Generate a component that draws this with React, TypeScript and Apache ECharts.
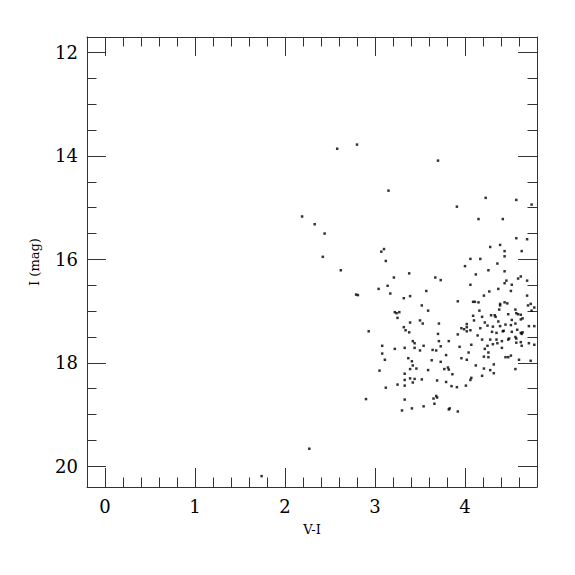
import React, { useEffect, useRef } from "react";
import * as echarts from "echarts";

// [V-I, I] pairs, grouped by I magnitude
const brightStars: number[][] = [
  [2.58, 13.86], [2.80, 13.78], [3.70, 14.09], [3.15, 14.67], [3.91, 14.98], [4.23, 14.81], [4.57, 14.85], [4.74, 14.94],
  [2.19, 15.17], [2.33, 15.32], [2.44, 15.50], [4.15, 15.22], [4.42, 15.22], [2.42, 15.95], [3.07, 15.85], [3.10, 15.80],
  [3.12, 16.03], [2.62, 16.21], [4.57, 15.59], [4.69, 15.61], [4.28, 15.76], [4.39, 15.72], [4.44, 15.84], [4.63, 15.84],
  [4.06, 15.99], [4.17, 15.99], [4.44, 15.94], [4.00, 16.13], [4.36, 16.08], [4.26, 16.21], [4.44, 16.23], [4.12, 16.29],
  [3.21, 16.35], [3.38, 16.27], [3.67, 16.35], [3.73, 16.40], [4.59, 16.37], [4.62, 16.33], [4.69, 16.41], [4.46, 16.41],
  [4.44, 16.46], [4.52, 16.49], [4.06, 16.49], [3.14, 16.51], [3.04, 16.57], [4.37, 16.57],
];

const stars167: number[][] = [
  [2.79, 16.68], [2.81, 16.69], [3.17, 16.66], [3.32, 16.75], [3.39, 16.71], [3.57, 16.61], [4.21, 16.70], [4.27, 16.62],
  [4.51, 16.61], [4.69, 16.70], [3.92, 16.81], [4.09, 16.82], [4.11, 16.82], [4.15, 16.83], [4.39, 16.86], [4.39, 16.89],
  [4.44, 16.83], [4.47, 16.85], [3.52, 16.89], [4.70, 16.89], [4.73, 16.86], [4.77, 16.93], [3.22, 17.02], [3.24, 17.04],
  [3.27, 17.02], [3.25, 17.13], [3.59, 16.99], [4.16, 16.99], [4.38, 16.97], [4.56, 16.97], [4.57, 17.04], [4.59, 17.06],
  [4.62, 17.07], [4.74, 16.99], [4.09, 17.09], [4.19, 17.11], [4.29, 17.08], [4.33, 17.08], [4.34, 17.11], [4.48, 17.06],
  [4.52, 17.17], [4.62, 17.16], [4.64, 17.14], [4.10, 17.18],
];

const stars173: number[][] = [
  [3.39, 17.22], [3.50, 17.18], [3.53, 17.24], [3.71, 17.24], [4.22, 17.22], [4.37, 17.20], [4.02, 17.25], [3.96, 17.33],
  [3.99, 17.35], [4.02, 17.31], [4.06, 17.37], [4.02, 17.39], [4.17, 17.33], [4.25, 17.28], [4.31, 17.30], [4.39, 17.29],
  [4.45, 17.26], [4.51, 17.27], [4.56, 17.24], [4.71, 17.29], [4.77, 17.29], [3.32, 17.31], [3.34, 17.37], [3.38, 17.41],
  [2.93, 17.39], [3.70, 17.44], [3.92, 17.45], [4.30, 17.40], [4.35, 17.42], [4.42, 17.39], [4.43, 17.38], [4.52, 17.40],
  [4.58, 17.36], [4.62, 17.42], [4.63, 17.44], [4.64, 17.41],
];

const stars176: number[][] = [
  [4.14, 17.47], [4.19, 17.55], [4.28, 17.55], [4.35, 17.55], [4.41, 17.58], [4.48, 17.55], [4.49, 17.53], [4.56, 17.50],
  [4.57, 17.53], [4.57, 17.61], [4.62, 17.60], [4.71, 17.62], [4.77, 17.65], [4.63, 17.67], [3.71, 17.58], [3.82, 17.58],
  [3.42, 17.58], [3.44, 17.62], [3.54, 17.67], [3.44, 17.71], [3.33, 17.71], [3.22, 17.73], [3.08, 17.67], [3.73, 17.68],
  [4.07, 17.65], [4.25, 17.67], [4.31, 17.64], [4.36, 17.62], [3.94, 17.69],
];

const stars179: number[][] = [
  [3.50, 17.76], [3.64, 17.75], [3.68, 17.76], [4.22, 17.73], [4.41, 17.71], [3.08, 17.82], [4.04, 17.80], [4.26, 17.80],
  [3.79, 17.85], [3.37, 17.91], [4.21, 17.88], [4.26, 17.89], [4.45, 17.89], [4.48, 17.89], [4.51, 17.86], [3.96, 17.91],
  [4.02, 17.94], [3.11, 17.94], [3.41, 17.97], [3.63, 17.95], [3.73, 17.98], [4.60, 17.94], [4.73, 17.96],
];

const stars182: number[][] = [
  [3.42, 18.05], [3.46, 18.11], [3.39, 18.12], [3.59, 18.14], [3.77, 18.12], [3.81, 18.09], [3.82, 18.13], [3.05, 18.15],
  [4.12, 18.05], [4.21, 18.11], [4.28, 18.14], [4.32, 18.20], [4.32, 18.03], [4.56, 18.12], [3.33, 18.21], [3.86, 18.22],
  [4.19, 18.25], [4.07, 18.29], [4.06, 18.33], [3.44, 18.31], [3.39, 18.30], [3.52, 18.32], [3.33, 18.33], [3.42, 18.38],
  [3.69, 18.34], [3.79, 18.37],
];

const faintStars: number[][] = [
  [3.25, 18.42], [3.33, 18.44], [3.85, 18.45], [3.91, 18.47], [4.01, 18.44], [3.12, 18.48], [2.90, 18.70], [3.33, 18.71],
  [3.68, 18.64], [3.69, 18.67], [3.65, 18.69], [3.66, 18.79], [3.54, 18.84], [3.41, 18.88], [3.30, 18.92], [3.82, 18.90],
  [3.83, 18.88], [3.92, 18.94], [1.74, 20.19], [2.27, 19.66],
];

const xMin = -0.2;
const xMax = 4.8;
const yMin = 11.7;
const yMax = 20.4;

const FONT = "DejaVu Serif";
const LINE = "#333";

function makeX(position: "bottom" | "top", labels: boolean) {
  return {
    type: "value",
    position,
    min: xMin,
    max: xMax,
    splitNumber: 5,
    axisLine: { show: true, onZero: false, lineStyle: { color: LINE, width: 1 } },
    axisTick: { show: true, inside: true, length: 19, lineStyle: { color: LINE, width: 1 } },
    minorTick: { show: true, splitNumber: 5, length: 9.5, lineStyle: { color: LINE, width: 1 } },
    splitLine: { show: false },
    minorSplitLine: { show: false },
    axisLabel: {
      show: labels,
      showMinLabel: false,
      showMaxLabel: false,
      margin: 10,
      color: "#000",
      fontFamily: FONT,
      fontSize: 18,
    },
    name: labels ? "V-I" : "",
    nameLocation: "middle",
    nameGap: 36,
    nameTextStyle: { color: "#000", fontFamily: FONT, fontSize: 13 },
  };
}

function makeY(position: "left" | "right", labels: boolean) {
  return {
    type: "value",
    position,
    inverse: true,
    min: yMin,
    max: yMax,
    splitNumber: 4,
    axisLine: { show: true, onZero: false, lineStyle: { color: LINE, width: 1 } },
    axisTick: { show: true, inside: true, length: 19, lineStyle: { color: LINE, width: 1 } },
    minorTick: { show: true, splitNumber: 4, length: 9.5, lineStyle: { color: LINE, width: 1 } },
    splitLine: { show: false },
    minorSplitLine: { show: false },
    axisLabel: {
      show: labels,
      showMinLabel: false,
      showMaxLabel: false,
      margin: 9,
      color: "#000",
      fontFamily: FONT,
      fontSize: 18,
    },
    name: labels ? "I (mag)" : "",
    nameLocation: "middle",
    nameRotate: 90,
    nameGap: 46,
    nameTextStyle: { color: "#000", fontFamily: FONT, fontSize: 13 },
  };
}

export default function App() {
  const ref = useRef<HTMLDivElement>(null);

  useEffect(() => {
    document.body.style.margin = "0";
    if (!ref.current) return;
    const chart = echarts.init(ref.current, undefined, { renderer: "svg" });
    const data = [
      ...brightStars,
      ...stars167,
      ...stars173,
      ...stars176,
      ...stars179,
      ...stars182,
      ...faintStars,
    ];
    chart.setOption({
      animation: false,
      backgroundColor: "#fff",
      grid: { left: 87, top: 37, width: 450, height: 450, containLabel: false },
      xAxis: [makeX("bottom", true), makeX("top", false)],
      yAxis: [makeY("left", true), makeY("right", false)],
      series: [
        {
          type: "scatter",
          xAxisIndex: 0,
          yAxisIndex: 0,
          symbol: "rect",
          symbolSize: 2.5,
          itemStyle: { color: "#000" },
          data,
          silent: true,
        },
      ],
    });
    return () => {
      chart.dispose();
    };
  }, []);

  return <div ref={ref} style={{ width: 575, height: 575 }} />;
}
